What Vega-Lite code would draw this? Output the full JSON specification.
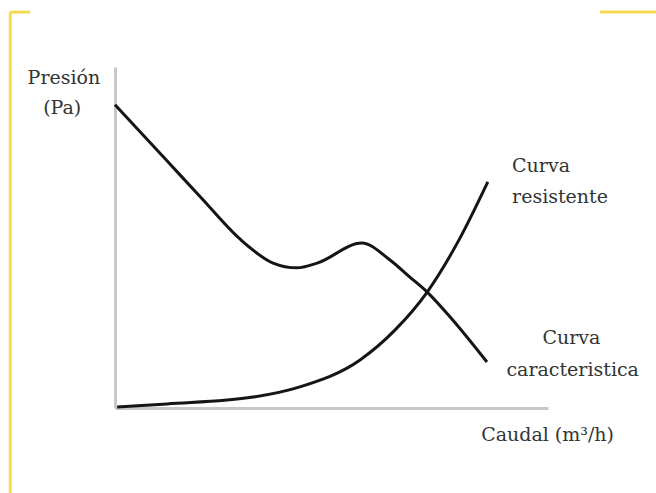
{
  "$schema": "https://vega.github.io/schema/vega-lite/v6.json",
  "width": 433,
  "height": 341,
  "autosize": {"type": "none"},
  "padding": {"left": 115, "top": 67, "right": 108, "bottom": 85},
  "background": "white",
  "config": {"view": {"stroke": null}},
  "datasets": {
    "curves": [
      {"curva": "característica", "caudal": 0, "presion": 88.9},
      {"curva": "característica", "caudal": 12.0, "presion": 72.5},
      {"curva": "característica", "caudal": 20.0, "presion": 61.5},
      {"curva": "característica", "caudal": 28.9, "presion": 49.5},
      {"curva": "característica", "caudal": 36.5, "presion": 42.5},
      {"curva": "característica", "caudal": 42.0, "presion": 41.1},
      {"curva": "característica", "caudal": 46.7, "presion": 42.5},
      {"curva": "característica", "caudal": 57.0, "presion": 48.4},
      {"curva": "característica", "caudal": 63.5, "presion": 43.4},
      {"curva": "característica", "caudal": 68.1, "presion": 38.4},
      {"curva": "característica", "caudal": 72.1, "presion": 34.0},
      {"curva": "característica", "caudal": 77.4, "presion": 26.7},
      {"curva": "característica", "caudal": 85.9, "presion": 13.5},
      {"curva": "resistente", "caudal": 0.5, "presion": 0.3},
      {"curva": "resistente", "caudal": 12, "presion": 1.2},
      {"curva": "resistente", "caudal": 31.9, "presion": 3.2},
      {"curva": "resistente", "caudal": 42.7, "presion": 6.2},
      {"curva": "resistente", "caudal": 56.6, "presion": 14.1},
      {"curva": "resistente", "caudal": 64.7, "presion": 22.9},
      {"curva": "resistente", "caudal": 72.1, "presion": 34.0},
      {"curva": "resistente", "caudal": 79.7, "presion": 49.9},
      {"curva": "resistente", "caudal": 86.1, "presion": 66.3}
    ],
    "labels": [
      {"texto": "Presión", "caudal": -11.8, "presion": 96.8, "alinear": "center"},
      {"texto": "(Pa)", "caudal": -12.2, "presion": 88.0, "alinear": "center"},
      {"texto": "Curva", "caudal": 91.7, "presion": 71.0, "alinear": "left"},
      {"texto": "resistente", "caudal": 91.7, "presion": 61.9, "alinear": "left"},
      {"texto": "Curva", "caudal": 105.4, "presion": 20.5, "alinear": "center"},
      {"texto": "caracteristica", "caudal": 105.7, "presion": 11.1, "alinear": "center"},
      {"texto": "Caudal (m³/h)", "caudal": 99.9, "presion": -7.9, "alinear": "center"}
    ],
    "frame": [
      {"x1": -24.2, "x2": -24.2, "y1": 116.1, "y2": -24.9},
      {"x1": -24.2, "x2": -19.6, "y1": 116.1, "y2": 116.1},
      {"x1": 112.0, "x2": 124.9, "y1": 116.1, "y2": 116.1}
    ]
  },
  "encoding": {
    "x": {"type": "quantitative", "scale": {"domain": [0, 100], "nice": false, "zero": false},
      "axis": {"title": null, "labels": false, "ticks": false, "grid": false, "domainColor": "#c8c8c8", "domainWidth": 3}},
    "y": {"type": "quantitative", "scale": {"domain": [0, 100], "nice": false, "zero": false},
      "axis": {"title": null, "labels": false, "ticks": false, "grid": false, "domainColor": "#c8c8c8", "domainWidth": 3}}
  },
  "layer": [
    {
      "data": {"name": "frame"},
      "mark": {"type": "rule", "color": "#f6da52", "strokeWidth": 3, "clip": false},
      "encoding": {
        "x": {"field": "x1", "type": "quantitative"},
        "x2": {"field": "x2"},
        "y": {"field": "y1", "type": "quantitative"},
        "y2": {"field": "y2"}
      }
    },
    {
      "data": {"name": "curves"},
      "mark": {"type": "line", "color": "#151515", "strokeWidth": 3, "interpolate": "monotone", "clip": false},
      "encoding": {
        "x": {"field": "caudal", "type": "quantitative"},
        "y": {"field": "presion", "type": "quantitative"},
        "detail": {"field": "curva", "type": "nominal"}
      }
    },
    {
      "data": {"name": "labels"},
      "transform": [{"filter": "datum.alinear == 'left'"}],
      "mark": {"type": "text", "font": "DejaVu Serif", "fontSize": 19, "color": "#333333", "align": "left", "baseline": "middle"},
      "encoding": {
        "x": {"field": "caudal", "type": "quantitative"},
        "y": {"field": "presion", "type": "quantitative"},
        "text": {"field": "texto"}
      }
    },
    {
      "data": {"name": "labels"},
      "transform": [{"filter": "datum.alinear == 'center'"}],
      "mark": {"type": "text", "font": "DejaVu Serif", "fontSize": 19, "color": "#333333", "align": "center", "baseline": "middle"},
      "encoding": {
        "x": {"field": "caudal", "type": "quantitative"},
        "y": {"field": "presion", "type": "quantitative"},
        "text": {"field": "texto"}
      }
    }
  ]
}
